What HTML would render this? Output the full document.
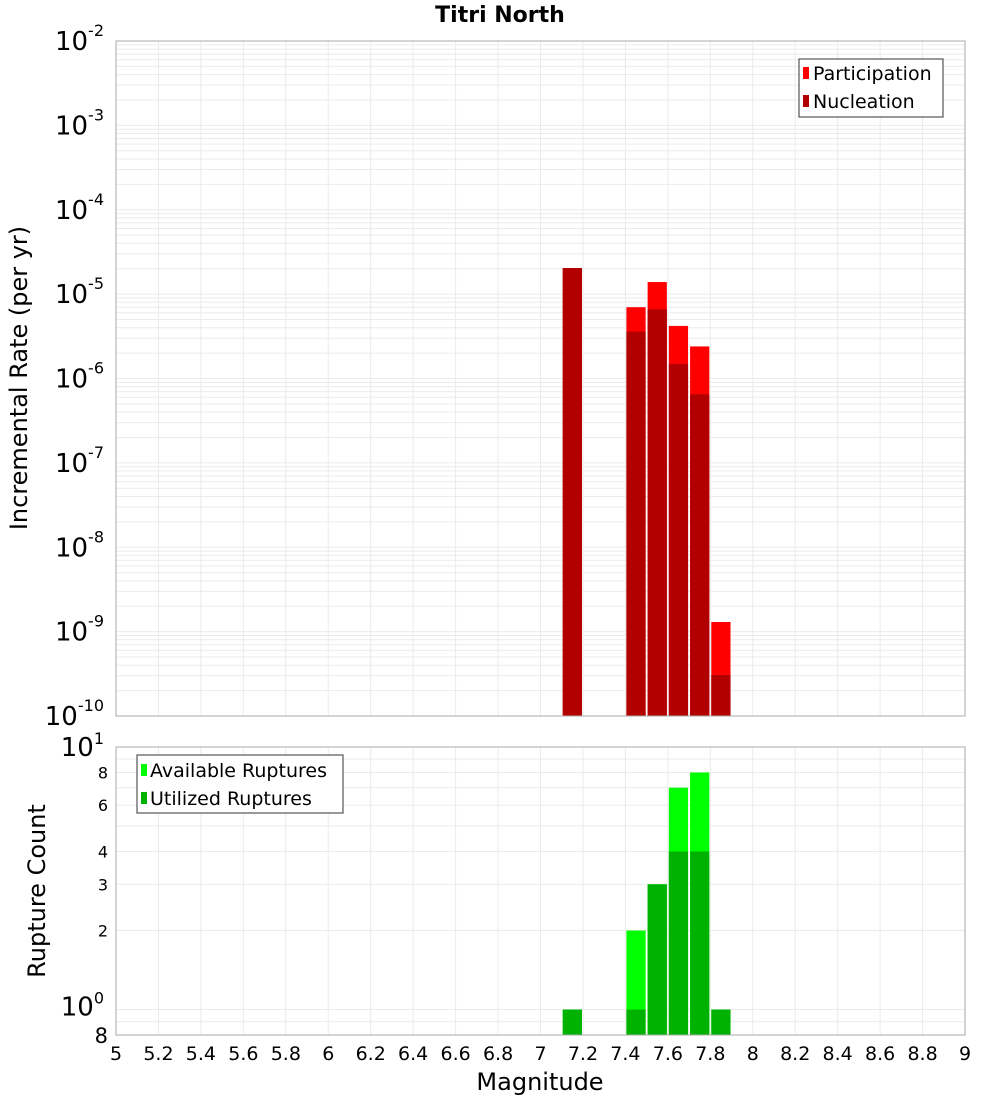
<!DOCTYPE html>
<html><head><meta charset="utf-8"><style>
body{margin:0;background:#fff;}
svg{display:block;font-family:"DejaVu Sans","Liberation Sans",sans-serif;}
</style></head><body>
<svg id="c" width="1000" height="1100" xmlns="http://www.w3.org/2000/svg"></svg>
<script>
const bins=[7.15,7.45,7.55,7.65,7.75,7.85];
const participation=[2.04e-5,7.0e-6,1.39e-5,4.2e-6,2.4e-6,1.3e-9];
const nucleation=[2.04e-5,3.6e-6,6.6e-6,1.48e-6,6.5e-7,3.06e-10];
const available=[1,2,3,7,8,1];
const utilized=[1,1,3,4,4,1];
const xTicks=[5,5.2,5.4,5.6,5.8,6,6.2,6.4,6.6,6.8,7,7.2,7.4,7.6,7.8,8,8.2,8.4,8.6,8.8,9];
const topExps=[-10,-9,-8,-7,-6,-5,-4,-3,-2];
const botTicks=[2,3,4,6,8];

const NS="http://www.w3.org/2000/svg";
const svg=document.getElementById('c');
function mk(t,a,p){const e=document.createElementNS(NS,t);for(const k in a)e.setAttribute(k,a[k]);(p||svg).appendChild(e);return e;}
const L=116,R=965,T1=41,B1=716,T2=747,B2=1035;
const xs=v=>L+(v-5)/4*(R-L);
const y1=v=>B1-(Math.log10(v)+10)/8*(B1-T1);
const y2=v=>B2-(Math.log10(v)-Math.log10(0.8))/(1-Math.log10(0.8))*(B2-T2);

for(let e=-10;e<-2;e++)for(let m=1;m<10;m++){const y=y1(m*Math.pow(10,e));const g=mk('line',{x1:L,x2:R,y1:y,y2:y,stroke:'#ebebeb','stroke-width':1});}
[0.9,1,2,3,4,5,6,7,8,9].forEach(v=>{const y=y2(v);const g=mk('line',{x1:L,x2:R,y1:y,y2:y,stroke:'#ebebeb'});});
xTicks.forEach(v=>{const x=xs(v);[[T1,B1],[T2,B2]].forEach(([a,b])=>{const g=mk('line',{x1:x,x2:x,y1:a,y2:b,stroke:'#ebebeb'});});});

const bw=(R-L)/40;
function bar(c,v,fill,yf,base,name){const x=xs(c)-bw/2+1,y=yf(v);const r=mk('rect',{x:x,y:y,width:bw-2,height:base-y,fill:fill});}
bins.forEach((c,i)=>{bar(c,participation[i],'#ff0000',y1,B1,'participation-bar');bar(c,nucleation[i],'#b20000',y1,B1,'nucleation-bar');
bar(c,available[i],'#00ff00',y2,B2,'available-bar');bar(c,utilized[i],'#00b200',y2,B2,'utilized-bar');});

[[T1,B1],[T2,B2]].forEach(([a,b])=>{const f=mk('rect',{x:L,y:a,width:R-L,height:b-a,fill:'none',stroke:'#aaa'});});

topExps.forEach(e=>{const y=y1(Math.pow(10,e));const t=mk('text',{x:104,y:y+9,'text-anchor':'end','font-size':26});
t.innerHTML='10<tspan dy="-14" font-size="16">'+e+'</tspan>';});
function bt(txt,y,name,sup){const t=mk('text',{x:sup?104:108,y:y,'text-anchor':'end','font-size':sup?26:16});t.innerHTML=txt;}
bt('10<tspan dy="-12" font-size="16">1</tspan>',y2(10)+9,'y-tick-label',true);
bt('10<tspan dy="-12" font-size="16">0</tspan>',y2(1)+6,'y-tick-label',true);
botTicks.forEach(v=>bt(String(v),y2(v)+6,'y-tick-label',false));
bt('<tspan font-size="21">8</tspan>',B2+8,'y-tick-label',false);
xTicks.forEach(v=>{const t=mk('text',{x:xs(v),y:1060,'text-anchor':'middle','font-size':19});t.textContent=String(v);});
</script>
<svg style="position:absolute;left:0;top:0" width="1000" height="1100" xmlns="http://www.w3.org/2000/svg">
<text x="500" y="22" text-anchor="middle" font-size="22" font-weight="bold">Titri North</text>
<text x="540" y="1090" text-anchor="middle" font-size="24">Magnitude</text>
<text transform="translate(27,378) rotate(-90)" text-anchor="middle" font-size="24">Incremental Rate (per yr)</text>
<text transform="translate(45,891) rotate(-90)" text-anchor="middle" font-size="24">Rupture Count</text>
<g>
<rect x="799" y="59" width="144" height="58" fill="#fff" stroke="#333"/>
<rect x="803" y="67" width="6" height="12" fill="#ff0000"/>
<text x="813" y="80" font-size="19">Participation</text>
<rect x="803" y="95" width="6" height="12" fill="#b20000"/>
<text x="813" y="108" font-size="19">Nucleation</text>
</g>
<g>
<rect x="137" y="755" width="206" height="58" fill="#fff" stroke="#333"/>
<rect x="141" y="764" width="6" height="12" fill="#00ff00"/>
<text x="150" y="777" font-size="19">Available Ruptures</text>
<rect x="141" y="792" width="6" height="12" fill="#00b200"/>
<text x="150" y="805" font-size="19">Utilized Ruptures</text>
</g>
</svg>
</body></html>
